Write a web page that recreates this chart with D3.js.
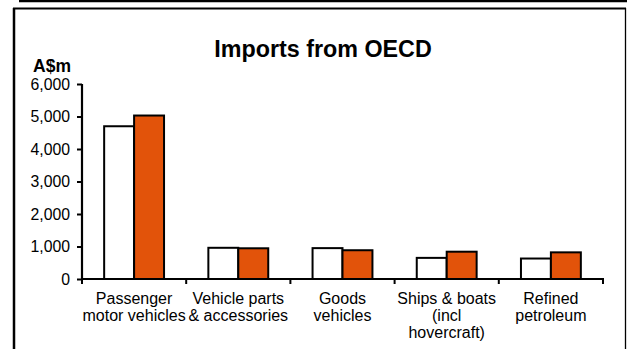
<!DOCTYPE html>
<html><head><meta charset="utf-8">
<script src="https://cdn.jsdelivr.net/npm/d3@7"></script>
<style>
html,body{margin:0;padding:0;background:#fff;}
svg{display:block;font-family:"Liberation Sans",Arial,sans-serif;}
</style></head>
<body>
<svg id="c" width="627" height="349"></svg>
<script>
const categories = [
  ["Passenger", "motor vehicles"],
  ["Vehicle parts", "& accessories"],
  ["Goods", "vehicles"],
  ["Ships & boats", "(incl", "hovercraft)"],
  ["Refined", "petroleum"]
];
const seriesNames = ["Earlier", "Latest"];
const seriesA = [4700, 960, 950, 650, 630];
const seriesB = [5030, 945, 885, 840, 820];
const yTicks = [0, 1000, 2000, 3000, 4000, 5000, 6000];
const colors = ["#ffffff", "#e2530a"];

(function () {
const svg = d3.select("#c");
// frame
svg.append("line").attr("x1", 19).attr("x2", 627).attr("y1", 1).attr("y2", 1)
  .attr("stroke", "#000").attr("stroke-width", 2.5);
svg.append("line").attr("x1", 14).attr("x2", 14).attr("y1", 8).attr("y2", 349)
  .attr("stroke", "#000").attr("stroke-width", 2.5);
svg.append("line").attr("x1", 13).attr("x2", 626).attr("y1", 8.5).attr("y2", 8.5)
  .attr("stroke", "#000").attr("stroke-width", 2);
svg.append("line").attr("x1", 625.5).attr("x2", 625.5).attr("y1", 8).attr("y2", 349)
  .attr("stroke", "#000").attr("stroke-width", 1.3);

const pLeft = 82, pRight = 603, pTop = 84, pBottom = 279;
const catIdx = categories.map((d, i) => i);
const x0 = d3.scaleBand().domain(catIdx).range([pLeft, pRight]).paddingInner(0).paddingOuter(0);
const x1 = d3.scaleBand().domain(seriesNames).range([0, x0.bandwidth()]).paddingInner(0).paddingOuter(0.74);
const y = d3.scaleLinear().domain([0, 6000]).range([pBottom, pTop]);

svg.append("text").attr("x", 323).attr("y", 57).attr("text-anchor", "middle")
  .attr("font-size", 23.3).attr("font-weight", "bold").text("Imports from OECD");
svg.append("text").attr("x", 71).attr("y", 72).attr("text-anchor", "end")
  .attr("font-size", 17.5).attr("font-weight", "bold").text("A$m");

// bars
const data = catIdx.map(i => [seriesA[i], seriesB[i]]);
const g = svg.append("g");
catIdx.forEach(i => {
  seriesNames.forEach((s, j) => {
    g.append("rect")
      .attr("x", x0(i) + x1(s))
      .attr("y", y(data[i][j]))
      .attr("width", x1.bandwidth())
      .attr("height", y(0) - y(data[i][j]))
      .attr("fill", colors[j]).attr("stroke", "#000").attr("stroke-width", 2);
  });
});

// y axis
const yAxis = svg.append("g").attr("transform", `translate(${pLeft},0)`)
  .call(d3.axisLeft(y).tickValues(yTicks).tickSize(5).tickPadding(7).tickFormat(d3.format(",")));
yAxis.select(".domain").attr("stroke-width", 2.2).attr("d", `M-0,${pTop}V${pBottom + 1}`);
yAxis.selectAll(".tick line").attr("stroke-width", 2);
yAxis.selectAll("text").attr("font-size", 15.8).attr("font-family", "Liberation Sans, Arial, sans-serif").attr("fill", "#000");

// x axis
const boundaries = catIdx.map(i => x0(i)).concat([pRight]);
const xAxisG = svg.append("g");
xAxisG.append("line").attr("x1", pLeft - 1).attr("x2", pRight + 1).attr("y1", pBottom).attr("y2", pBottom)
  .attr("stroke", "#000").attr("stroke-width", 2.2);
xAxisG.selectAll("line.tk").data(boundaries).enter().append("line")
  .attr("class", "tk").attr("x1", d => d).attr("x2", d => d).attr("y1", pBottom).attr("y2", pBottom + 5)
  .attr("stroke", "#000").attr("stroke-width", 2);
catIdx.forEach(i => {
  const t = svg.append("text").attr("text-anchor", "middle").attr("font-size", 16)
    .attr("x", x0(i) + x0.bandwidth() / 2).attr("y", 304);
  categories[i].forEach((line, k) => {
    t.append("tspan").attr("x", x0(i) + x0.bandwidth() / 2).attr("dy", k === 0 ? 0 : 17.2).text(line);
  });
});
})();
</script>
</body></html>
